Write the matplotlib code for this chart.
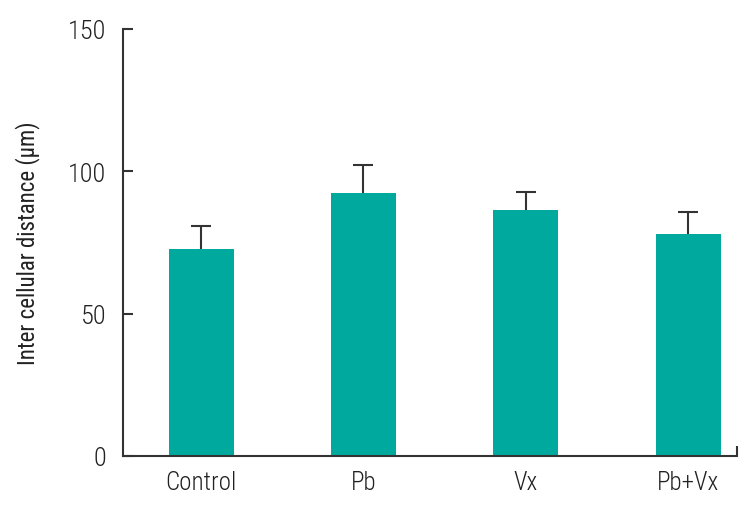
import numpy as np
import matplotlib
matplotlib.use("Agg")
import matplotlib.pyplot as plt
from matplotlib import font_manager

# values
groups = ["Control", "Pb", "Vx", "Pb+Vx"]
means = [72.8, 92.3, 86.2, 77.9]
errors = [7.9, 10.0, 6.6, 7.7]

names = {f.name for f in font_manager.fontManager.ttflist}
fam = [f for f in ["Roboto Condensed", "Liberation Sans Narrow", "Liberation Sans"] if f in names]
plt.rcParams["font.family"] = fam + ["DejaVu Sans"]
plt.rcParams["font.weight"] = "light"

dark = "#333333"
teal = "#00A99D"

fig = plt.figure(figsize=(7.46, 5.06), dpi=100)
ax = fig.add_axes([0.165, 0.097, 0.823, 0.844])

x = np.arange(len(groups))
ax.bar(x, means, width=0.4, color=teal, zorder=2)
eb = ax.errorbar(x, means, yerr=[np.zeros(len(errors)), errors], fmt="none",
                 ecolor=dark, elinewidth=1.5, capsize=7.5, capthick=1.5, zorder=1)
# only the upper cap is drawn in the original
eb[1][0].set_visible(False)

ax.set_xlim(-0.48, 3.30)
ax.set_ylim(0, 150)
ax.set_yticks([0, 50, 100, 150])
ax.set_xticks(x)
ax.set_xticklabels(groups)
ax.set_xticks([3.30], minor=True)
ax.tick_params(axis="x", which="major", length=0, pad=10, labelsize=18, labelcolor="#222222")
ax.tick_params(axis="x", which="minor", length=7, width=1.5, direction="in", color=dark)
ax.tick_params(axis="y", length=7, width=1.5, direction="in", color=dark, pad=12,
               labelsize=19, labelcolor="#222222")

for s in ["top", "right"]:
    ax.spines[s].set_visible(False)
for s in ["left", "bottom"]:
    ax.spines[s].set_linewidth(1.5)
    ax.spines[s].set_color(dark)

ax.set_ylabel("Inter cellular distance (\u03bcm)", fontsize=16.5, color="#222222", labelpad=20)

fig.savefig("out.png", dpi=100)
